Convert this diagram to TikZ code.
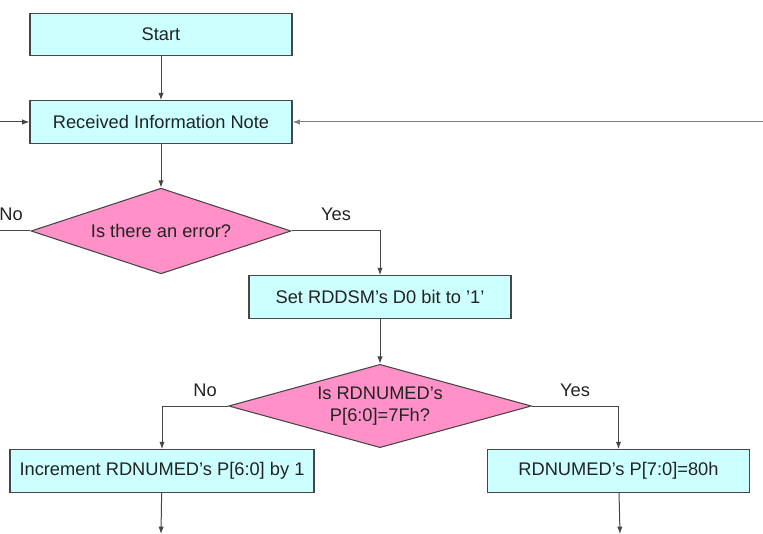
\documentclass[tikz,border=0pt]{standalone}
\usepackage{fontspec}
\setmainfont{Liberation Sans}
\usetikzlibrary{shapes.geometric,arrows.meta}
\definecolor{boxcyan}{RGB}{204,255,255}
\definecolor{dpink}{RGB}{255,145,200}
\definecolor{edge}{RGB}{70,70,70}
\definecolor{txt}{RGB}{35,35,35}

\begin{document}
\begin{tikzpicture}[x=0.75pt,y=-0.75pt,
            font=\fontsize{13.7}{16}\selectfont, text=txt,
            proc/.style={rectangle, draw=edge, line width=0.8pt, fill=boxcyan, minimum width=196.5pt, minimum height=32pt, inner sep=0pt},
            dec/.style={diamond, draw=edge, line width=0.8pt, fill=dpink, inner sep=0pt, align=center},
            arr/.style={draw=edge, line width=0.75pt, -{Latex[length=5.5pt,width=4pt]}}
            ]
            \useasboundingbox (0,0) rectangle (763,534);
            \node[proc] (a) at (161,34.5) {Start};
            \node[proc] (b) at (161,122) {Received Information Note};
            \node[dec, aspect=1.94, minimum width=195pt] (c) at (161,231) {Is there an error?};
            \node[proc] (d) at (380,297) {Set RDDSM’s D0 bit to ’1’};
            \node[dec, aspect=2.75, minimum width=227pt] (e) at (380,406) {Is RDNUMED’s\\P[6:0]=7Fh?};
            \node[proc, minimum width=228pt] (f) at (162,471) {Increment RDNUMED’s P[6:0] by 1};
            \node[proc] (g) at (618.5,471) {RDNUMED’s P[7:0]=80h};

            \coordinate (l) at (0,122);
            \coordinate (r) at (763,122);
            \coordinate (n) at (0,231);
            \coordinate (h1) at (161,534);
            \coordinate (h2) at (620,534);

            \node (no1) at (11,214) {No};
            \node (yes1) at (336,214) {Yes};
            \node (no2) at (205,390) {No};
            \node (yes2) at (575,390) {Yes};

            \draw[arr] (a) -- (b);
            \draw[arr] (l) -- (b);
            \draw[arr, draw=gray] (r) -- (b);
            \draw[arr] (b) -- (c);
            \draw[draw=edge, line width=0.75pt] (c.west) -- (n);
            \draw[arr] (c.east) -| (d);
            \draw[arr] (d) -- (e);
            \draw[arr] (e.west) -| (f);
            \draw[arr] (e.east) -| (g);
            \draw[arr] (f) -- (h1);
            \draw[arr] (g) -- (h2);
            \end{tikzpicture}
\end{document}
